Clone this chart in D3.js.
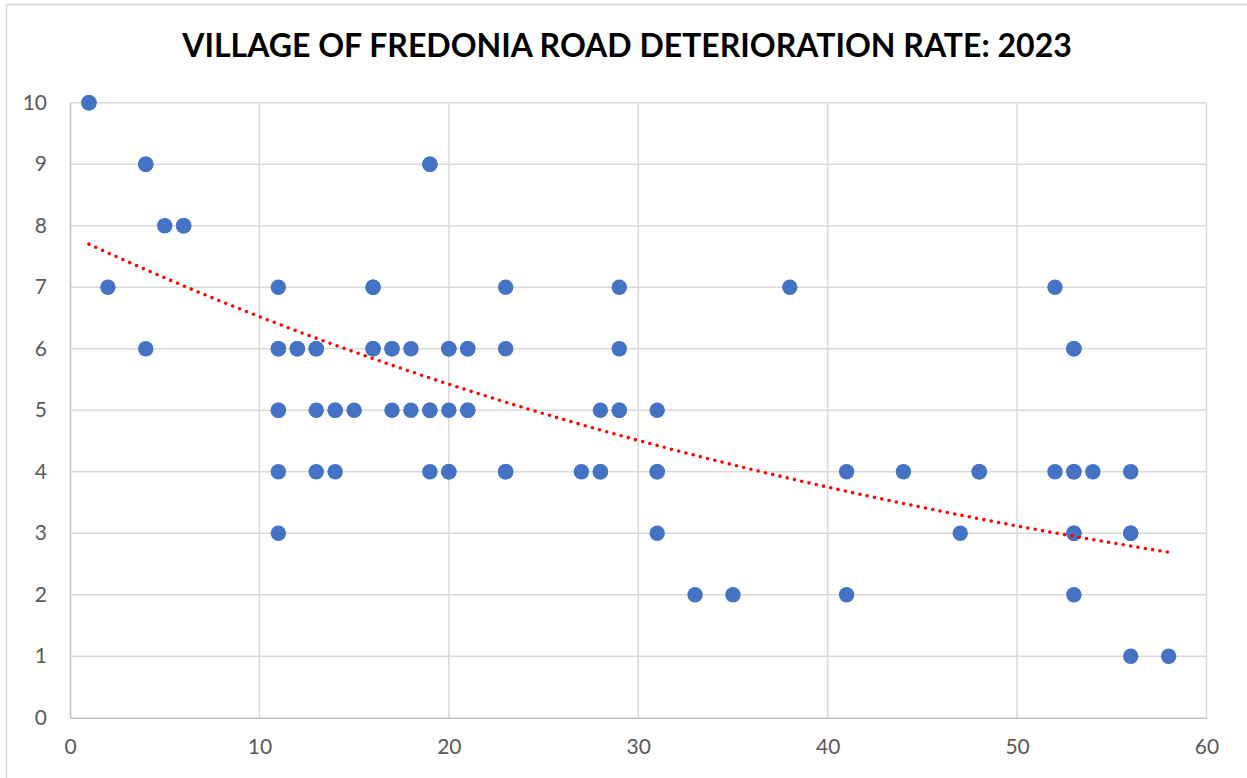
<!DOCTYPE html>
<html lang="en">
<head>
  <meta charset="UTF-8">
  <title>Road Deterioration Rate</title>
  <script src="https://d3js.org/d3.v7.min.js"></script>
  <style>
    body { margin: 0; background: #fff; }
    svg { display: block; }
  </style>
</head>
<body>
  <div id="canvas"></div>
  <script>
    // road age (x) and condition rating (y); repeated pairs are overlapping points
    const roadX = [1, 1, 2, 4, 4, 4, 5, 6, 6,
      11, 11, 11, 11, 11, 11, 11, 12, 12, 13, 13, 13, 13, 14, 14, 14, 15,
      16, 16, 16, 16, 17, 17, 17, 18, 18, 19, 19, 19, 19, 19,
      20, 20, 20, 20, 20, 21, 21, 21, 21, 23, 23, 23, 23,
      27, 28, 28, 28, 29, 29, 29, 29, 31, 31, 31, 31, 33, 35, 38,
      41, 41, 44, 47, 48, 48, 52, 52, 53, 53, 53, 53, 53, 53, 53,
      54, 56, 56, 56, 56, 58];
    const roadY = [10, 10, 7, 9, 9, 6, 8, 8, 8,
      7, 6, 6, 5, 5, 4, 3, 6, 6, 6, 6, 5, 4, 5, 5, 4, 5,
      7, 7, 6, 6, 6, 6, 5, 6, 5, 9, 9, 5, 5, 4,
      6, 6, 5, 4, 4, 6, 6, 5, 5, 7, 6, 4, 4,
      4, 5, 4, 4, 7, 6, 5, 5, 5, 4, 4, 3, 2, 2, 7,
      4, 2, 4, 3, 4, 4, 7, 4, 6, 6, 4, 4, 3, 3, 2,
      4, 4, 3, 3, 1, 1];
    const xTicks = [0, 10, 20, 30, 40, 50, 60];
    const yTicks = [0, 1, 2, 3, 4, 5, 6, 7, 8, 9, 10];
    // exponential trendline y = a * e^(b x)
    const trendA = 7.843;
    const trendB = -0.01845;
    const titleText = 'VILLAGE OF FREDONIA ROAD DETERIORATION RATE: 2023';

    const width = 1247;
    const height = 778;
    const plotLeft = 70, plotRight = 1206.5, plotTop = 102.7, plotBottom = 717.7;

    const svg = d3.select('#canvas')
      .append('svg')
      .attr('width', width)
      .attr('height', height);

    svg.append('rect')
      .attr('x', 6.5).attr('y', 4.5)
      .attr('width', 1260).attr('height', 800)
      .attr('fill', '#fff')
      .attr('stroke', '#d9d9d9')
      .attr('stroke-width', 1.5);

    const scaleX = d3.scaleLinear().domain([0, 60]).range([plotLeft, plotRight]);
    const scaleY = d3.scaleLinear().domain([0, 10]).range([plotBottom, plotTop]);

    // gridlines
    svg.append('g')
      .selectAll('line')
      .data(xTicks.slice(1))
      .enter()
      .append('line')
      .attr('x1', d => scaleX(d)).attr('x2', d => scaleX(d))
      .attr('y1', plotTop).attr('y2', plotBottom)
      .attr('stroke', '#d9d9d9')
      .attr('stroke-width', 1.5);
    svg.append('g')
      .selectAll('line')
      .data(yTicks.slice(1))
      .enter()
      .append('line')
      .attr('x1', plotLeft).attr('x2', plotRight)
      .attr('y1', d => scaleY(d)).attr('y2', d => scaleY(d))
      .attr('stroke', '#d9d9d9')
      .attr('stroke-width', 1.5);

    // axes
    const xAxis = d3.axisBottom(scaleX).tickValues(xTicks).tickSize(0).tickPadding(22);
    const gx = svg.append('g')
      .attr('transform', 'translate(0,' + plotBottom + ')')
      .call(xAxis);
    const yAxis = d3.axisLeft(scaleY).tickValues(yTicks).tickSize(0).tickPadding(22);
    const gy = svg.append('g')
      .attr('transform', 'translate(' + plotLeft + ',0)')
      .call(yAxis);
    [gx, gy].forEach(g => {
      g.select('.domain').attr('stroke', '#bfbfbf').attr('stroke-width', 1.5);
      g.selectAll('text')
        .attr('fill', '#595959')
        .style('font-family', 'Lato, sans-serif')
        .style('font-size', '21px');
    });
    gx.selectAll('text').attr('dy', '0.72em').attr('y', 21);
    gy.selectAll('text').attr('x', -23);

    // points
    const points = roadX.map((x, i) => ({ x: x, y: roadY[i] }));
    svg.append('g')
      .selectAll('circle')
      .data(points)
      .enter()
      .append('circle')
      .attr('cx', d => scaleX(d.x))
      .attr('cy', d => scaleY(d.y))
      .attr('r', 7.7)
      .attr('fill', '#4472c4');

    // trendline
    const xMin = d3.min(roadX), xMax = d3.max(roadX);
    const trendPts = d3.range(xMin, xMax + 0.01, 0.5).map(x => [x, trendA * Math.exp(trendB * x)]);
    svg.append('path')
      .datum(trendPts)
      .attr('d', d3.line().x(d => scaleX(d[0])).y(d => scaleY(d[1])))
      .attr('fill', 'none')
      .attr('stroke', '#ff0000')
      .attr('stroke-width', 3.6)
      .attr('stroke-linecap', 'round')
      .attr('stroke-dasharray', '0 7.45');

    // title, sized to the reference width
    const title = svg.append('text')
      .attr('x', 627)
      .attr('y', 57)
      .attr('text-anchor', 'middle')
      .attr('fill', '#000')
      .style('font-family', 'Lato, sans-serif')
      .style('font-weight', 'bold')
      .style('font-size', '30px')
      .text(titleText);
    const w = title.node().getComputedTextLength();
    title.style('font-size', (30 * 890 / w) + 'px');
  </script>
</body>
</html>
